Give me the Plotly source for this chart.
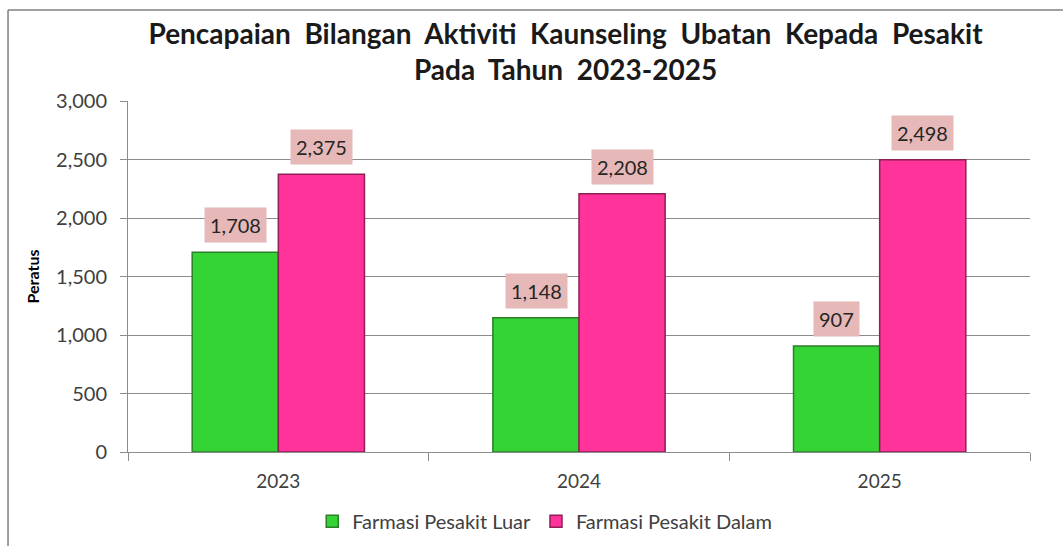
import plotly.graph_objects as go

years = ["2023", "2024", "2025"]
luar = [1708, 1148, 907]
dalam = [2375, 2208, 2498]
series_names = ["Farmasi Pesakit Luar", "Farmasi Pesakit Dalam"]
y_ticks = [0, 500, 1000, 1500, 2000, 2500, 3000]

FONT = "Lato"
fig = go.Figure()
fig.add_trace(go.Bar(x=years, y=luar, name=series_names[0],
                     marker=dict(color="#35D435", line=dict(color="#2B7F2B", width=1.5))))
fig.add_trace(go.Bar(x=years, y=dalam, name=series_names[1],
                     marker=dict(color="#FF3399", line=dict(color="#8E1F55", width=1.5))))

anns = []
for vals, shift in ((luar, -43), (dalam, 43)):
    for i, v in enumerate(vals):
        anns.append(dict(x=i, y=v, xref="x", yref="y", xshift=shift, yshift=9,
                         yanchor="bottom", text=f"{v:,}", showarrow=False,
                         bgcolor="#E6B9B8", borderpad=5,
                         font=dict(family=FONT, size=20, color="#262626")))

fig.update_layout(
    width=1063, height=546,
    margin=dict(l=128, r=33, t=101, b=94, autoexpand=False),
    paper_bgcolor="white", plot_bgcolor="white",
    barmode="group", bargap=0.427, bargroupgap=0,
    font=dict(family=FONT, color="#404040"),
    title=dict(text="Pencapaian  Bilangan  Aktiviti  Kaunseling  Ubatan  Kepada  Pesakit<br>Pada  Tahun  2023-2025",
               x=0.532, xanchor="center", y=0.92, yanchor="middle",
               font=dict(family=FONT, size=28, color="#1a1a1a", weight="bold")),
    yaxis=dict(range=[0, 3000], tickvals=y_ticks, tickformat=",", showgrid=True,
               gridcolor="#8c8c8c", gridwidth=1, zeroline=False, automargin=False,
               showline=True, linecolor="#8c8c8c", ticks="outside", ticklen=7,
               ticklabelstandoff=9,
               tickcolor="#8c8c8c", tickfont=dict(size=20, color="#404040"),
               title=dict(text="<b>Peratus</b>", font=dict(size=16, color="#000"), standoff=12)),
    xaxis=dict(type="category", range=[-0.5, 2.5], showline=True, linecolor="#8c8c8c",
               ticks="outside", tickson="boundaries", automargin=False, tickangle=0,
               ticklabelstandoff=12,
               ticklen=8, tickcolor="#8c8c8c", tickfont=dict(size=19, color="#404040")),
    legend=dict(orientation="h", x=0.462, xanchor="center", y=-0.197, yanchor="middle",
                font=dict(size=20, color="#404040"), itemwidth=30),
    annotations=anns,
    shapes=[dict(type="line", xref="paper", yref="paper", x0=-0.133, x1=-0.133, y0=-0.4, y1=1.259,
                 line=dict(color="#808080", width=1.5)),
            dict(type="line", xref="paper", yref="paper", x0=-0.133, x1=1.1, y0=1.259, y1=1.259,
                 line=dict(color="#808080", width=1.5))],
    showlegend=True,
)
fig.write_html("out.html", config={"displayModeBar": False},
               post_script="document.body.style.margin='0';")
